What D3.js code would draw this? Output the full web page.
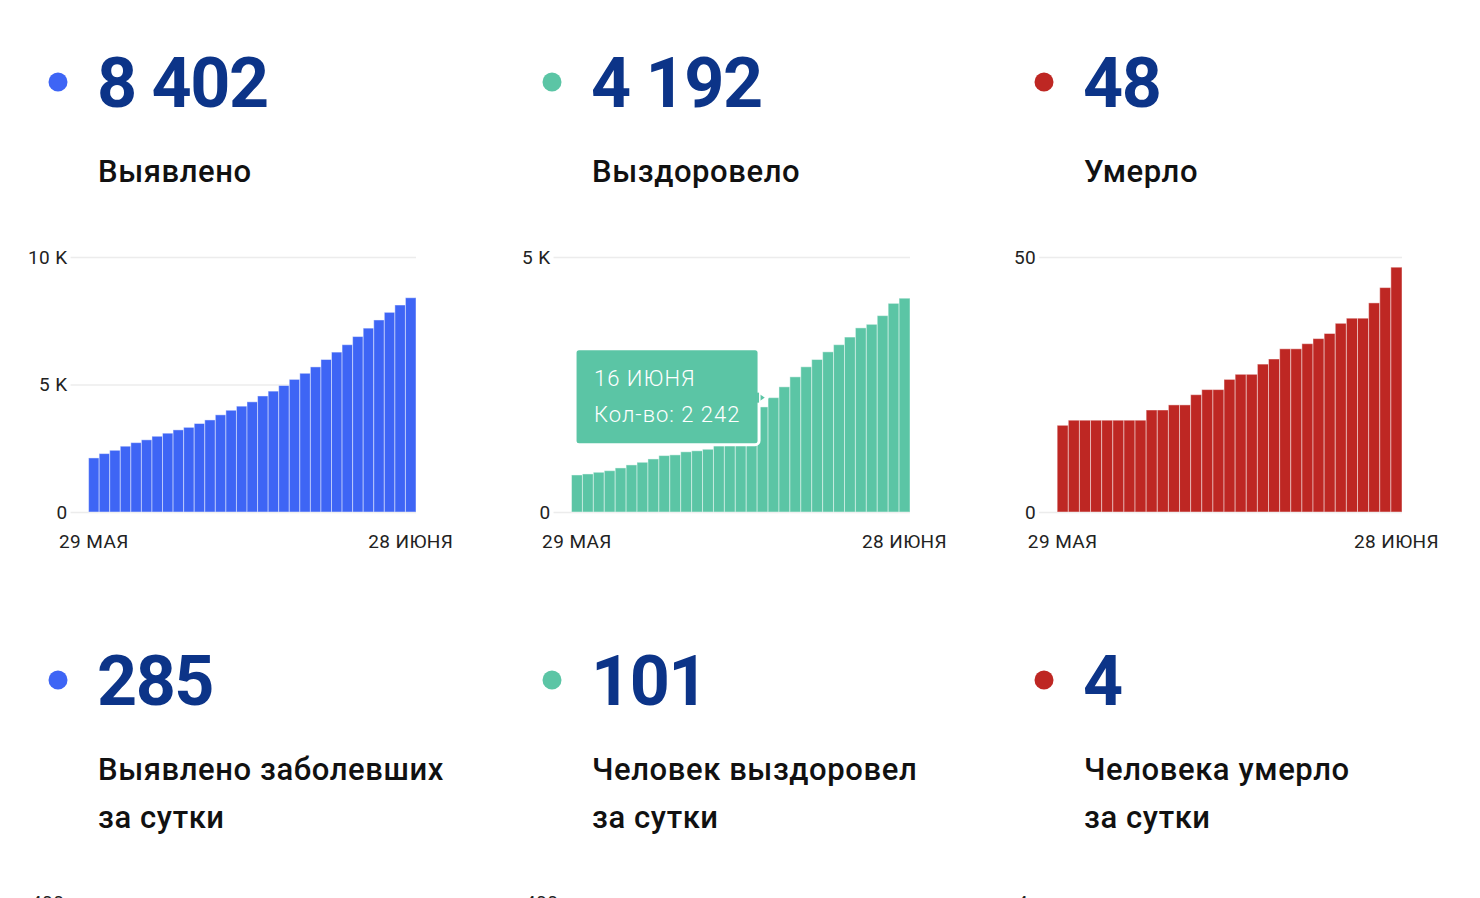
<!DOCTYPE html>
<html>
<head>
<meta charset="utf-8">
<title>Коронавирус</title>
<script src="https://d3js.org/d3.v7.min.js"></script>
<style>
  body { margin: 0; background: #fff; overflow: hidden; }
  text { font-family: Roboto, "Noto Sans", sans-serif; }
</style>
</head>
<body>
<div id="chart"></div>
<script>
// дни по оси X
const days = ["29 МАЯ", "30 МАЯ", "31 МАЯ",
  "1 ИЮНЯ", "2 ИЮНЯ", "3 ИЮНЯ", "4 ИЮНЯ", "5 ИЮНЯ", "6 ИЮНЯ", "7 ИЮНЯ",
  "8 ИЮНЯ", "9 ИЮНЯ", "10 ИЮНЯ", "11 ИЮНЯ", "12 ИЮНЯ", "13 ИЮНЯ", "14 ИЮНЯ",
  "15 ИЮНЯ", "16 ИЮНЯ", "17 ИЮНЯ", "18 ИЮНЯ", "19 ИЮНЯ", "20 ИЮНЯ", "21 ИЮНЯ",
  "22 ИЮНЯ", "23 ИЮНЯ", "24 ИЮНЯ", "25 ИЮНЯ", "26 ИЮНЯ", "27 ИЮНЯ", "28 ИЮНЯ"];

// накопленные значения
const confirmed = [2120, 2290, 2420, 2580, 2720, 2830, 2970, 3090, 3220, 3320, 3470,
  3610, 3810, 3990, 4150, 4320, 4550, 4740, 4960, 5200, 5440, 5690, 5980, 6270,
  6560, 6880, 7210, 7530, 7830, 8117, 8402];
const recovered = [726, 746, 779, 810, 864, 923, 975, 1040, 1106, 1120, 1180,
  1200, 1230, 1300, 1420, 1580, 1800, 2060, 2242, 2454, 2650, 2847, 2990, 3140,
  3280, 3430, 3610, 3680, 3850, 4091, 4192];
const deaths = [17, 18, 18, 18, 18, 18, 18, 18, 20, 20, 21, 21, 23, 24, 24, 26, 27,
  27, 29, 30, 32, 32, 33, 34, 35, 37, 38, 38, 41, 44, 48];

// итоги и подписи
const totals = [8402, 4192, 48];
const totalLabels = ["Выявлено", "Выздоровело", "Умерло"];
const daily = [285, 101, 4];
const dailyLabels = [["Выявлено заболевших", "за сутки"],
                     ["Человек выздоровел", "за сутки"],
                     ["Человека умерло", "за сутки"]];

const yTicks = [[0, 5000, 10000], [0, 5000], [0, 50]];
const dailyTopTick = [400, 400, 4];
const colors = ["#3e65f5", "#5bc5a5", "#be2723"];
const series = [confirmed, recovered, deaths];

const numFmt = n => d3.format(",")(n).replace(/,/g, " ");
const kFmt = v => v >= 1000 ? (v / 1000) + " K" : String(v);

const svg = d3.select("#chart").append("svg")
  .attr("width", 1480).attr("height", 898);

const colX = [0, 494, 986];
const axisFont = 19, axisSpacing = "0.4px";

function textWidth(str) {
  const t = svg.append("text").attr("font-size", axisFont)
    .attr("letter-spacing", axisSpacing).text(str);
  const w = t.node().getComputedTextLength();
  t.remove();
  return w;
}

function styleAxisText(sel) {
  sel.selectAll("text").attr("font-size", axisFont).attr("fill", "#222")
    .attr("letter-spacing", axisSpacing)
    .attr("font-family", "Roboto, sans-serif");
}

function header(g, y0, color, value, lines) {
  g.append("circle").attr("cx", 58).attr("cy", y0 - 25).attr("r", 9.5).attr("fill", color);
  g.append("text").attr("x", 97).attr("y", y0)
    .attr("font-size", 70).attr("font-weight", 700)
    .attr("letter-spacing", "-1.5px")
    .attr("fill", "#0c3488").text(numFmt(value));
  lines.forEach((l, i) => {
    g.append("text").attr("x", 98).attr("y", y0 + 75 + i * 48)
      .attr("font-size", 31).attr("font-weight", 500)
      .attr("letter-spacing", "0.6px")
      .attr("fill", "#111").text(l);
  });
}

series.forEach((data, i) => {
  const g = svg.append("g").attr("transform", "translate(" + colX[i] + ",0)");
  header(g, 107, colors[i], totals[i], [totalLabels[i]]);

  const ticks = yTicks[i];
  const lw = d3.max(ticks, t => textWidth(kFmt(t)));
  const left = 28 + lw + 21, right = 416;
  const top = 257, bottom = 512;

  const x = d3.scaleBand().domain(days).range([left, right]).padding(0);
  const y = d3.scaleLinear().domain([0, d3.max(ticks)]).range([bottom, top]);

  // сетка и подписи оси Y
  const yAxis = d3.axisLeft(y).tickValues(ticks).tickFormat(kFmt)
    .tickSizeInner(-(right - left + 18)).tickSizeOuter(0).tickPadding(3);
  const ya = g.append("g").attr("transform", "translate(" + (left - 18) + ",0)").call(yAxis);
  ya.select(".domain").remove();
  ya.selectAll("line").attr("stroke", "#ececec").attr("stroke-width", 1.5);
  styleAxisText(ya);

  g.selectAll("rect.bar").data(data).enter().append("rect")
    .attr("class", "bar")
    .attr("x", (d, j) => x(days[j]))
    .attr("y", d => y(d))
    .attr("width", x.bandwidth())
    .attr("height", d => bottom - y(d))
    .attr("fill", colors[i])
    .attr("stroke", "#fff").attr("stroke-opacity", 0.45).attr("stroke-width", 1);

  // подписи оси X: первый и последний день
  const xAxis = d3.axisBottom(x).tickValues([days[0], days[days.length - 1]])
    .tickSize(0).tickPadding(23);
  const xa = g.append("g").attr("transform", "translate(0," + bottom + ")").call(xAxis);
  xa.select(".domain").remove();
  styleAxisText(xa);

  // всплывающая подсказка на «Выздоровело»
  if (i === 1) {
    const k = 18;
    const tipRight = x(days[k]) - 9, cy = y(data[k]);
    const tw = 184, th = 96;
    const tip = g.append("g");
    tip.append("path")
      .attr("d", "M" + (tipRight - 1) + "," + (cy - 6) + "L" + (tipRight + 8) + "," + cy +
                 "L" + (tipRight - 1) + "," + (cy + 6) + "Z")
      .attr("fill", colors[1]).attr("stroke", "#fff").attr("stroke-width", 2.5);
    tip.append("rect").attr("x", tipRight - tw).attr("y", cy - th / 2 - 1)
      .attr("width", tw).attr("height", th).attr("rx", 4)
      .attr("fill", colors[1]).attr("stroke", "#fff").attr("stroke-width", 3);
    tip.append("rect").attr("x", tipRight - 4).attr("y", cy - 5)
      .attr("width", 4).attr("height", 10).attr("fill", colors[1]);
    tip.append("text").attr("x", tipRight - tw + 19).attr("y", cy - 12)
      .attr("font-size", 22).attr("font-weight", 300).attr("fill", "#fff")
      .attr("letter-spacing", "1px")
      .text(days[k]);
    tip.append("text").attr("x", tipRight - tw + 19).attr("y", cy + 24)
      .attr("font-size", 22).attr("font-weight", 300).attr("fill", "#fff")
      .attr("letter-spacing", "1px")
      .text("Кол-во: " + numFmt(data[k]));
  }

  // второй ряд: за сутки
  const g2 = svg.append("g").attr("transform", "translate(" + colX[i] + ",0)");
  header(g2, 705, colors[i], daily[i], dailyLabels[i]);
  const lw2 = textWidth(String(dailyTopTick[i]));
  const y2 = d3.scaleLinear().domain([0, dailyTopTick[i]]).range([1157, 902]);
  const ya2 = g2.append("g").attr("transform", "translate(" + (31 + lw2 + 3) + ",0)")
    .call(d3.axisLeft(y2).tickValues([dailyTopTick[i]]).tickFormat(d3.format("d"))
      .tickSize(0).tickPadding(3));
  ya2.select(".domain").remove();
  styleAxisText(ya2);
});
</script>
</body>
</html>
